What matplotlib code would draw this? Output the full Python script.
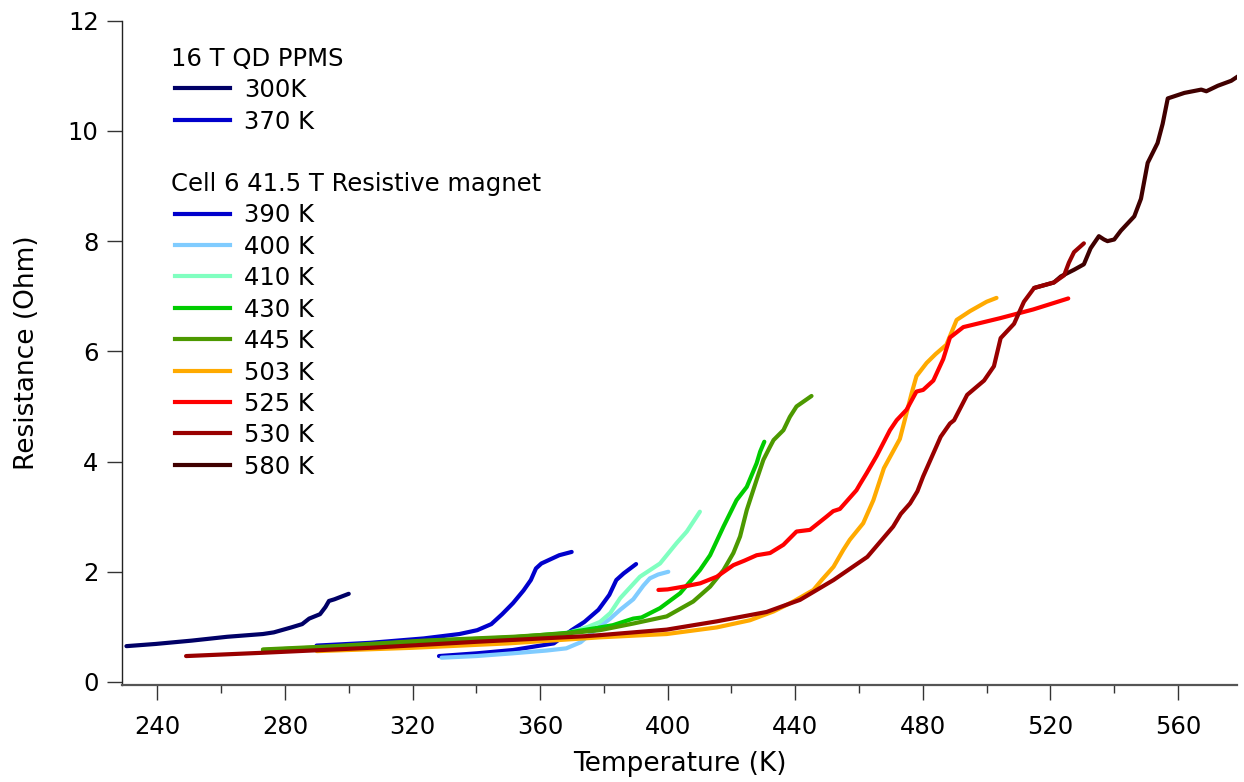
import matplotlib
matplotlib.use("Agg")
import matplotlib.pyplot as plt
from matplotlib.lines import Line2D
from matplotlib.ticker import MultipleLocator

plt.rcParams['font.family'] = ['DejaVu Sans']

# ---------------- data ----------------
T_300 = [230.3, 239.5, 250.7, 261.9, 273.1, 276.5, 282.0, 285.4, 287.6, 291.0, 292.7, 293.8, 295.5, 300.0]
R_300 = [0.65, 0.69, 0.75, 0.82, 0.87, 0.90, 0.99, 1.05, 1.15, 1.23, 1.36, 1.47, 1.50, 1.60]

T_370 = [289.9, 306.7, 323.5, 334.7, 340.3, 344.7, 348.1, 351.5, 354.8, 357.1, 358.7, 360.4, 366.0, 369.9]
R_370 = [0.66, 0.71, 0.79, 0.87, 0.94, 1.05, 1.23, 1.43, 1.66, 1.85, 2.06, 2.15, 2.30, 2.36]

T_390 = [328.3, 340.2, 351.5, 364.3, 369.9, 373.9, 378.3, 381.7, 383.9, 386.2, 390.1]
R_390 = [0.47, 0.52, 0.58, 0.70, 0.94, 1.09, 1.31, 1.58, 1.85, 1.97, 2.14]

T_400 = [329.1, 340.0, 351.5, 362.0, 368.2, 372.7, 376.0, 379.0, 382.0, 385.1, 389.2, 392.4, 394.4, 397.0, 400.2]
R_400 = [0.44, 0.47, 0.52, 0.57, 0.61, 0.72, 0.88, 1.02, 1.15, 1.31, 1.50, 1.75, 1.88, 1.95, 2.00]

T_410 = [360.0, 368.2, 375.0, 378.8, 382.0, 385.1, 391.3, 397.6, 402.8, 406.0, 410.1]
R_410 = [0.82, 0.88, 1.00, 1.09, 1.25, 1.52, 1.91, 2.15, 2.52, 2.73, 3.09]

T_430 = [273.1, 295.5, 323.5, 351.5, 368.2, 378.8, 382.8, 389.2, 391.8, 397.6, 403.9, 410.1, 413.3,
         417.5, 421.6, 424.8, 427.9, 429.0, 430.3]
R_430 = [0.58, 0.64, 0.74, 0.81, 0.89, 0.99, 1.03, 1.15, 1.17, 1.34, 1.61, 2.03, 2.30,
         2.82, 3.30, 3.54, 3.97, 4.18, 4.36]

T_445 = [273.1, 295.5, 323.5, 351.5, 368.2, 378.8, 389.2, 399.7, 408.0, 413.3, 417.5, 420.6, 422.7,
         424.8, 427.9, 430.0, 432.1, 433.2, 436.3, 438.3, 440.4, 445.1]
R_445 = [0.59, 0.65, 0.75, 0.82, 0.88, 0.94, 1.06, 1.19, 1.46, 1.73, 2.03, 2.34, 2.64,
         3.12, 3.67, 4.03, 4.27, 4.39, 4.57, 4.81, 5.00, 5.19]

T_503 = [290.0, 320.0, 350.0, 378.8, 399.7, 415.4, 425.8, 433.2, 439.4, 445.7, 448.3, 452.0, 455.1,
         457.1, 461.3, 464.5, 467.8, 472.8, 474.9, 476.5, 478.0, 481.2, 484.0, 487.4, 490.6, 494.8,
         500.0, 503.1]
R_503 = [0.56, 0.62, 0.70, 0.81, 0.87, 0.99, 1.12, 1.28, 1.46, 1.67, 1.85, 2.09, 2.40,
         2.58, 2.88, 3.30, 3.88, 4.41, 4.88, 5.24, 5.55, 5.79, 5.95, 6.12, 6.57, 6.73,
         6.90, 6.97]

T_525 = [397.1, 400.0, 405.0, 410.2, 415.4, 420.6, 424.0, 427.9, 432.1, 436.3, 440.4, 444.6, 449.8,
         451.9, 454.0, 459.2, 460.3, 462.4, 465.5, 469.7, 471.8, 474.9, 478.0, 480.1, 483.3, 486.4,
         488.5, 492.7, 504.1, 514.6, 525.6]
R_525 = [1.67, 1.68, 1.73, 1.79, 1.91, 2.12, 2.20, 2.30, 2.34, 2.49, 2.73, 2.76, 3.00,
         3.10, 3.14, 3.48, 3.59, 3.79, 4.10, 4.57, 4.75, 4.94, 5.27, 5.30, 5.47, 5.86,
         6.25, 6.44, 6.60, 6.76, 6.96]

T_530 = [249.0, 273.1, 306.7, 340.3, 374.0, 378.8, 399.7, 415.4, 431.0, 441.5, 452.0, 462.6, 470.7,
         473.1, 476.0, 478.3, 480.1, 485.6, 488.5, 489.8, 493.9, 499.2, 502.3, 504.4, 508.6, 511.7,
         514.9, 521.1, 524.3, 525.8, 527.4, 530.5]
R_530 = [0.47, 0.53, 0.62, 0.73, 0.83, 0.85, 0.95, 1.10, 1.27, 1.49, 1.85, 2.27, 2.82,
         3.05, 3.24, 3.46, 3.73, 4.45, 4.69, 4.75, 5.21, 5.47, 5.73, 6.24, 6.50, 6.90,
         7.15, 7.25, 7.38, 7.61, 7.80, 7.96]

T_580 = [514.9, 521.1, 523.3, 527.4, 530.5, 532.6, 535.2, 536.8, 537.9, 540.0, 542.1, 546.3, 548.4,
         550.5, 553.6, 555.2, 556.8, 562.0, 567.3, 568.9, 572.5, 576.7, 578.8]
R_580 = [7.15, 7.25, 7.36, 7.48, 7.58, 7.87, 8.09, 8.03, 8.00, 8.03, 8.19, 8.45, 8.77,
         9.42, 9.78, 10.13, 10.59, 10.69, 10.75, 10.72, 10.82, 10.91, 10.99]

group1_title = "16 T QD PPMS"
group1_labels = ["300K", "370 K"]
group2_title = "Cell 6 41.5 T Resistive magnet"
group2_labels = ["390 K", "400 K", "410 K", "430 K", "445 K", "503 K", "525 K", "530 K", "580 K"]

x_ticks = [240, 280, 320, 360, 400, 440, 480, 520, 560]
y_ticks = [0, 2, 4, 6, 8, 10, 12]

colors = {
    "300K": "#000066", "370 K": "#0000cc", "390 K": "#0000cc", "400 K": "#80ccff",
    "410 K": "#80ffc0", "430 K": "#00cc00", "445 K": "#4c9900", "503 K": "#ffaa00",
    "525 K": "#ff0000", "530 K": "#990000", "580 K": "#400000",
}

series = [
    ("300K", T_300, R_300, 2), ("370 K", T_370, R_370, 2), ("390 K", T_390, R_390, 2),
    ("400 K", T_400, R_400, 3), ("410 K", T_410, R_410, 3), ("430 K", T_430, R_430, 3),
    ("445 K", T_445, R_445, 4), ("503 K", T_503, R_503, 3.5), ("525 K", T_525, R_525, 5),
    ("580 K", T_580, R_580, 5.5), ("530 K", T_530, R_530, 6),
]

# ---------------- figure ----------------
W, H = 1244, 782
fig = plt.figure(figsize=(W / 100, H / 100), dpi=100)
ax = fig.add_axes([0.0983, 0.1244, 0.8958, 0.8491])

for name, t, r, z in series:
    ax.plot(t, r, color=colors[name], lw=3.0, zorder=z,
            solid_capstyle='round', solid_joinstyle='round')

ax.set_xlim(229.0, 578.4)
ax.set_ylim(-0.05, 12)
ax.set_xticks(x_ticks)
ax.set_yticks(y_ticks)
ax.xaxis.set_minor_locator(MultipleLocator(20))

for s in ["top", "right"]:
    ax.spines[s].set_visible(False)
ax.spines["bottom"].set_color("#555555")
ax.spines["bottom"].set_linewidth(1.6)
ax.spines["left"].set_color("#222222")
ax.spines["left"].set_linewidth(1.0)

ax.tick_params(axis="x", which="major", direction="out", length=11, width=1.0,
               color="#333333", labelsize=17.5, pad=11)
ax.tick_params(axis="x", which="minor", direction="out", length=6, width=1.0, color="#333333")
ax.tick_params(axis="y", which="major", direction="out", length=11, width=1.0,
               color="#333333", labelsize=17.5, pad=6)

ax.set_xlabel("Temperature (K)", fontsize=19)
ax.set_ylabel("Resistance (Ohm)", fontsize=19)
ax.xaxis.set_label_coords(0.5, -0.100)
ax.yaxis.set_label_coords(-0.074, 0.5)

# ---------------- legend (annotation style) ----------------
def fx(px):
    return px / W

def fy(py):
    return 1 - py / H

fs_leg = 17.5
base_off = 9
rows1 = [88.3, 119.6]
fig.text(fx(171), fy(57 + base_off), group1_title, fontsize=fs_leg, va="baseline", ha="left")
for lab, yy in zip(group1_labels, rows1):
    fig.add_artist(Line2D([fx(175), fx(230)], [fy(yy), fy(yy)], transform=fig.transFigure,
                          color=colors[lab], lw=3.0))
    fig.text(fx(244), fy(yy + base_off), lab, fontsize=fs_leg, va="baseline", ha="left")

fig.text(fx(171), fy(182.2 + base_off), group2_title, fontsize=fs_leg, va="baseline", ha="left")
for i, lab in enumerate(group2_labels):
    yy = 213.5 + i * 31.4
    fig.add_artist(Line2D([fx(175), fx(230)], [fy(yy), fy(yy)], transform=fig.transFigure,
                          color=colors[lab], lw=3.0))
    fig.text(fx(244), fy(yy + base_off), lab, fontsize=fs_leg, va="baseline", ha="left")

fig.savefig("out.png", dpi=100, facecolor="white")
